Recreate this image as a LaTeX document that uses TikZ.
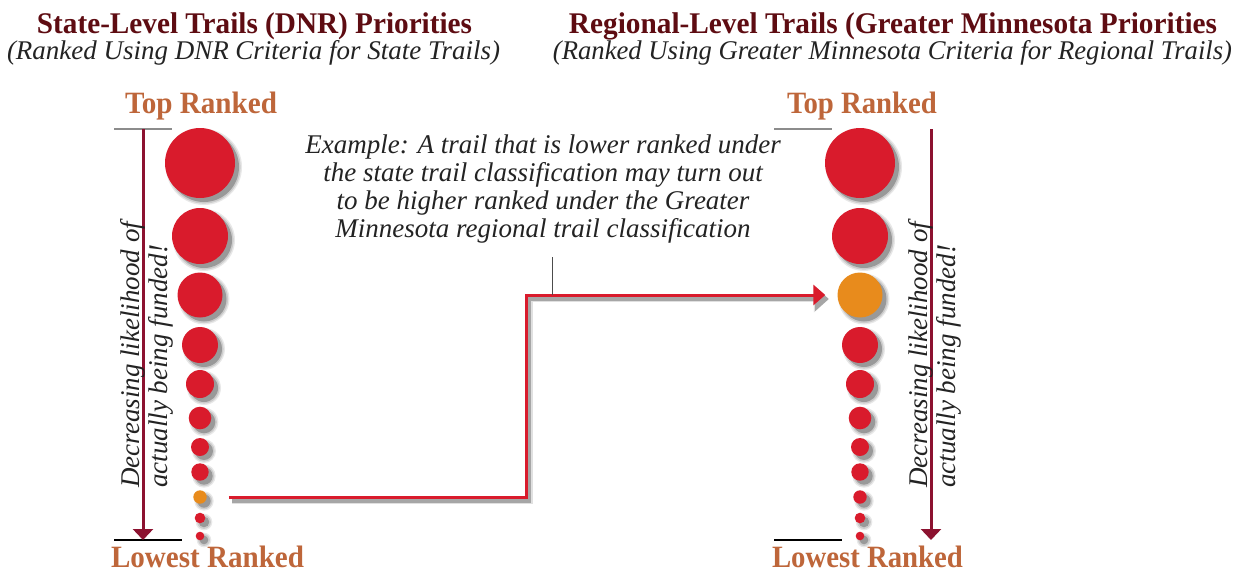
\documentclass[tikz,border=0pt]{standalone}
\usepackage{fontspec}
\setmainfont{Liberation Serif}
\usepackage{graphicx}
\usetikzlibrary{arrows.meta}
\definecolor{titlered}{RGB}{94,12,18}
\definecolor{rankbrown}{RGB}{190,102,58}
\definecolor{circred}{RGB}{217,27,44}
\definecolor{circorange}{RGB}{232,139,28}
\definecolor{arrowred}{RGB}{140,18,48}
\definecolor{textgray}{RGB}{35,35,35}
\newcommand\fitw[2]{\resizebox{#1}{\height}{#2}}
\begin{document}
\begin{tikzpicture}[x=1pt,y=-1pt,
  txt/.style={inner sep=0pt, anchor=base},
  titletxt/.style={txt, text=titlered, font=\fontsize{30pt}{34pt}\selectfont\bfseries},
  subtxt/.style={txt, text=textgray, font=\fontsize{27pt}{30pt}\selectfont\itshape},
  ranktxt/.style={txt, text=rankbrown, font=\fontsize{31pt}{34pt}\selectfont\bfseries},
  bodytxt/.style={inner sep=0pt, text=textgray, font=\fontsize{27pt}{28pt}\selectfont\itshape},
  dot/.style={circle, inner sep=0pt, draw=none},
  vertarrow/.style={draw=arrowred, line width=3pt, -{Triangle[width=20pt,length=11pt]}},
  link/.style={draw=circred, line width=3pt, line join=miter, -{Triangle[width=20pt,length=12pt]}, shorten <=22pt, shorten >=12pt},
  linkshadow/.style={line width=#1, line join=miter, -{Triangle[width=20pt+#1,length=12pt+0.5*#1]}, shorten <=22pt, shorten >=12pt},
  topline/.style={draw=black!45, line width=2pt},
  botline/.style={draw=black, line width=1.3pt},
  callout/.style={draw=black!70, line width=1pt}
]
\fill[white] (0,0) rectangle (1248,571);
\useasboundingbox (0,0) rectangle (1248,571);

% titles
\node[titletxt] (title1) at (254.5,33) {\fitw{435pt}{State-Level Trails (DNR) Priorities}};
\node[subtxt] (sub1) at (253.5,59) {\fitw{493pt}{(Ranked Using DNR Criteria for State Trails)}};
\node[titletxt] (title2) at (893,33) {\fitw{648pt}{Regional-Level Trails (Greater Minnesota Priorities}};
\node[subtxt] (sub2) at (892.5,59) {\fitw{679pt}{(Ranked Using Greater Minnesota Criteria for Regional Trails)}};

% rank labels
\node[ranktxt] (topL) at (201,113) {\fitw{152pt}{Top Ranked}};
\node[ranktxt] (topR) at (862,113) {\fitw{150pt}{Top Ranked}};
\node[ranktxt] (lowL) at (207.5,567.5) {\fitw{193pt}{Lowest Ranked}};
\node[ranktxt] (lowR) at (867.5,567.5) {\fitw{191pt}{Lowest Ranked}};

% top / bottom rules and arrows
\coordinate (tlA) at (114,129); \coordinate (tlB) at (172,129);
\coordinate (blA) at (114,540); \coordinate (blB) at (182,540);
\coordinate (trA) at (774,129); \coordinate (trB) at (832,129);
\coordinate (brA) at (774,540); \coordinate (brB) at (842,540);
\draw[topline] (tlA) -- (tlB);
\draw[topline] (trA) -- (trB);
\draw[botline] (blA) -- (blB);
\draw[botline] (brA) -- (brB);
\coordinate (aLt) at (143,129); \coordinate (aLb) at (143,540);
\coordinate (aRt) at (931,129); \coordinate (aRb) at (931,540);
\draw[vertarrow] (aLt) -- (aLb);
\draw[vertarrow] (aRt) -- (aRb);

% rotated texts
\node[bodytxt, align=left, rotate=90, anchor=north west] (decL) at (120.6,488)
  {Decreasing likelihood of\\actually being funded!};
\node[bodytxt, align=left, rotate=90, anchor=north west] (decR) at (908.6,488)
  {Decreasing likelihood of\\actually being funded!};

% circle shadows
\foreach \yy/\rr in {163/35,236/28,295/22.5,345/18,384/14,418/11.3,447/9,472/8.7,497/6.7,518/5.3,536/4.3}{
  \foreach \xx in {200,860}{
    \fill[black!9]  ({\xx+4},{\yy+4}) circle[radius={\rr pt+3pt}];
    \fill[black!20] ({\xx+4},{\yy+4}) circle[radius={\rr pt+1.6pt}];
    \fill[black!40] ({\xx+4},{\yy+4}) circle[radius={\rr pt}];
  }
}
% circles
\foreach \n/\yy/\rr/\cl in {1/163/35/circred,2/236/28/circred,3/295/22.5/circred,4/345/18/circred,5/384/14/circred,6/418/11.3/circred,7/447/9/circred,8/472/8.7/circred,9/497/6.7/circorange,10/518/5.3/circred,11/536/4.3/circred}{
  \node[dot, fill=\cl, minimum size={2*\rr pt}] (L\n) at (200,\yy) {};
}
\foreach \n/\yy/\rr/\cl in {1/163/35/circred,2/236/28/circred,3/295/22.5/circorange,4/345/18/circred,5/384/14/circred,6/418/11.3/circred,7/447/9/circred,8/472/8.7/circred,9/497/6.7/circred,10/518/5.3/circred,11/536/4.3/circred}{
  \node[dot, fill=\cl, minimum size={2*\rr pt}] (R\n) at (860,\yy) {};
}

% example text
\node[bodytxt, align=center, anchor=north] (example) at (543,134.5)
  {Example: A trail that is lower ranked under\\
   the state trail classification may turn out\\
   to be higher ranked under the Greater\\
   Minnesota regional trail classification};

% connector with shadow
\coordinate (jog) at (526,400);
\begin{scope}[transform canvas={shift={(3.5pt,-4pt)}}]
  \draw[linkshadow=6pt, draw=black!12] (L9.east) -| (jog) |- (R3.west);
  \draw[linkshadow=3.5pt, draw=black!35] (L9.east) -| (jog) |- (R3.west);
\end{scope}
\draw[link] (L9.east) -| (jog) |- (R3.west);

% callout line
\coordinate (callTop) at (552,257);
\draw[callout] (callTop) -- (callTop |- R3.west);
\end{tikzpicture}
\end{document}
